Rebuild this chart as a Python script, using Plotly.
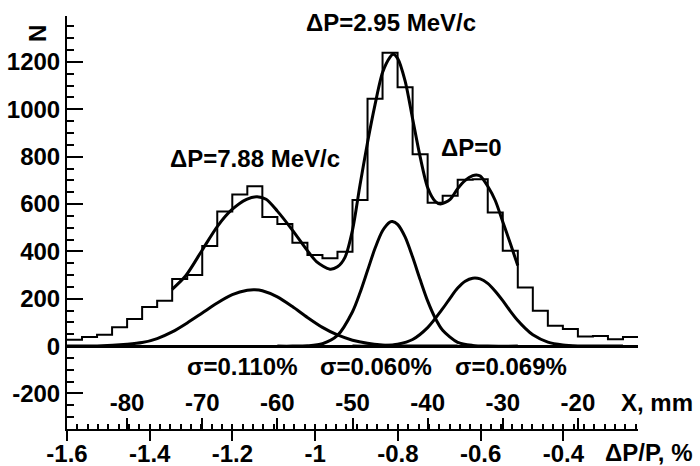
import plotly.graph_objects as go

# ---------------- data ----------------
# histogram: bin edges in X (mm), 2 mm bins
bin_edges_mm = [-88, -86, -84, -82, -80, -78, -76, -74, -72, -70, -68, -66, -64,
                -62, -60, -58, -56, -54, -52, -50, -48, -46, -44, -42, -40, -38,
                -36, -34, -32, -30, -28, -26, -24, -22, -20, -18, -16, -14, -12]
counts = [27, 38, 48, 80, 115, 165, 192, 283, 300, 423, 568, 640, 675,
          545, 516, 437, 385, 371, 399, 617, 1045, 1239, 1093, 810, 605, 635,
          702, 705, 564, 403, 248, 149, 86, 72, 41, 43, 29, 39]

# total fit curve
fit_x = [-74.0, -72.2, -70.0, -68.0, -66.1, -64.1, -62.7, -61.5, -60.0, -58.0,
         -56.0, -54.8, -53.0, -52.0, -51.0, -50.0, -49.0, -48.0, -47.0, -46.0,
         -45.0, -44.6, -44.0, -43.0, -42.0, -41.0, -40.0, -39.0, -38.3, -37.0,
         -36.0, -35.0, -34.0, -33.5, -33.0, -32.0, -31.0, -30.0, -29.0, -28.0]
fit_y = [240, 297, 406, 505, 575, 620, 631, 620, 570, 490,
         403, 357, 325, 335, 375, 490, 680, 860, 1020, 1155,
         1220, 1232, 1215, 1120, 960, 800, 670, 612, 600, 620,
         665, 700, 720, 723, 718, 675, 615, 525, 434, 340]

# component 1 (sigma = 0.110 %)
g1_x = [-88, -84, -80, -78, -76, -74, -72, -70, -68, -66, -64, -63, -62,
        -60, -58, -56, -54, -52, -50, -48, -46, -44, -40, -36]
g1_y = [0, 1, 8, 15, 32, 60, 98, 140, 182, 217, 236, 238, 234,
        208, 167, 121, 79, 47, 25, 12, 5, 2, 0, 0]

# component 2 (sigma = 0.060 %)
g2_x = [-60, -58, -56, -54, -52, -50, -49, -48, -47, -46, -45, -44.7, -44,
        -43, -42, -41, -40, -39, -38, -36, -34, -32, -28]
g2_y = [0, 0, 1.5, 10, 45, 145, 225, 319, 413, 487, 524, 526, 514,
        461, 376, 281, 191, 119, 67, 16, 3, 0, 0]

# component 3 (sigma = 0.069 %)
g3_x = [-50, -48, -46, -44, -42, -40, -38, -37, -36, -35, -34, -33, -32,
        -31, -30, -29, -28, -27, -26, -24, -22, -20, -18, -14]
g3_y = [0, 0, 2, 8, 28, 78, 158, 203, 245, 274, 287, 284, 265,
        232, 192, 148, 108, 75, 48, 17, 5, 1, 0, 0]

# axes
y_tickvals = [-200, 0, 200, 400, 600, 800, 1000, 1200]
y_ticktext = ["-200", "0", "200", "400", "600", "800", "1000", "1200"]
dp_tickvals = [-1.6, -1.4, -1.2, -1.0, -0.8, -0.6, -0.4]
dp_ticktext = ["-1.6", "-1.4", "-1.2", "-1", "-0.8", "-0.6", "-0.4"]
mm_tickvals = [-80, -70, -60, -50, -40, -30, -20]
mm_ticktext = ["-80", "-70", "-60", "-50", "-40", "-30", "-20"]

peak_labels = ["ΔP=7.88 MeV/c", "ΔP=2.95 MeV/c", "ΔP=0"]
peak_label_x = [-63.0, -44.9, -34.1]
peak_label_y = [794, 1368, 837]
sigma_labels = ["σ=0.110%", "σ=0.060%", "σ=0.069%"]
sigma_label_x = [-64.7, -46.9, -28.9]
sigma_label_y = [-86, -86, -86]

# ---------------- figure ----------------
FONT = "Liberation Sans, Arial, Helvetica, sans-serif"
fs = 24
fig = go.Figure()

hist_x = bin_edges_mm
hist_y = counts + [counts[-1]]
fig.add_trace(go.Scatter(x=hist_x, y=hist_y, mode="lines", xaxis="x", yaxis="y",
                         line=dict(shape="hv", color="black", width=2)))
for gx, gy in [(g1_x, g1_y), (g2_x, g2_y), (g3_x, g3_y), (fit_x, fit_y)]:
    fig.add_trace(go.Scatter(x=gx, y=gy, mode="lines", xaxis="x", yaxis="y",
                             line=dict(shape="spline", smoothing=0.8, color="black", width=3)))
# empty traces so the helper axes get drawn
fig.add_trace(go.Scatter(x=[], y=[], mode="lines", xaxis="x2", yaxis="y", hoverinfo="skip"))
fig.add_trace(go.Scatter(x=[], y=[], mode="lines", xaxis="x3", yaxis="y", hoverinfo="skip"))
fig.add_trace(go.Scatter(x=[], y=[], mode="lines", xaxis="x4", yaxis="y4", hoverinfo="skip"))

def tfont():
    return dict(size=fs, family=FONT, color="black", weight="bold")

annotations = []
for t, x, y in zip(peak_labels, peak_label_x, peak_label_y):
    annotations.append(dict(text=t, x=x, y=y, xref="x", yref="y", showarrow=False, font=tfont()))
for t, x, y in zip(sigma_labels, sigma_label_x, sigma_label_y):
    annotations.append(dict(text=t, x=x, y=y, xref="x", yref="y", showarrow=False, font=tfont()))
annotations.append(dict(text="X, mm", x=1.0998, y=-239, xref="paper", yref="y",
                        xanchor="right", showarrow=False, font=tfont()))
annotations.append(dict(text="ΔP/P, %", x=1.0998, y=-0.0574, xref="paper", yref="paper",
                        xanchor="right", yanchor="middle", showarrow=False, font=tfont()))
annotations.append(dict(text="N", x=-0.0788, y=0.983, xref="paper", yref="paper",
                        textangle=-90, showarrow=False, font=tfont()))

fig.update_layout(
    width=700, height=466,
    margin=dict(l=67, r=62, t=16, b=37, autoexpand=False),
    paper_bgcolor="white", plot_bgcolor="white",
    showlegend=False,
    annotations=annotations,
    # X (mm) data axis: bottom line, major ticks pointing up
    xaxis=dict(range=[-88, -12], tickvals=mm_tickvals, showticklabels=False,
               anchor="y", side="bottom", automargin=False,
               ticks="inside", ticklen=11, tickwidth=2, tickcolor="black",
               showline=True, linewidth=2, linecolor="black", showgrid=False, zeroline=False),
    # relative momentum axis: major ticks down, labels below
    xaxis2=dict(range=[-1.6, -0.2195], tickvals=dp_tickvals, ticktext=dp_ticktext,
                overlaying="x", anchor="y", side="bottom", automargin=False,
                ticks="outside", ticklen=11, tickwidth=2, tickcolor="black",
                ticklabelstandoff=-8,
                showline=False, showgrid=False, zeroline=False, tickfont=tfont()),
    # relative momentum small ticks (every 0.025 %), pointing up
    xaxis3=dict(range=[-1.6, -0.2195], tick0=-1.6, dtick=0.025, showticklabels=False,
                overlaying="x", anchor="y", side="bottom", automargin=False,
                ticks="inside", ticklen=5, tickwidth=2, tickcolor="black",
                showline=False, showgrid=False, zeroline=False),
    yaxis=dict(range=[-350, 1394], tickvals=y_tickvals, ticktext=y_ticktext,
               ticks="inside", ticklen=16, tickwidth=2, tickcolor="black", automargin=False,
               showline=True, linewidth=2, linecolor="black", showgrid=False,
               zeroline=True, zerolinewidth=3, zerolinecolor="black",
               tickfont=tfont(),
               minor=dict(dtick=50, tick0=0, ticks="inside", ticklen=7, tickwidth=2,
                          tickcolor="black")),
    # helper subplot: X (mm) tick labels printed just above the bottom line
    xaxis4=dict(range=[-88, -12], tickvals=mm_tickvals, ticktext=mm_ticktext,
                anchor="y4", side="bottom", domain=[0, 1], automargin=False,
                ticks="", showline=False, showgrid=False, zeroline=False,
                tickfont=tfont(), fixedrange=True),
    yaxis4=dict(domain=[0.105, 0.1055], anchor="x4", range=[0, 1],
                showticklabels=False, ticks="", showline=False, showgrid=False,
                zeroline=False, automargin=False, fixedrange=True),
)

fig.write_html("out.html", config={"displayModeBar": False},
               post_script="document.body.style.margin='0px';")
